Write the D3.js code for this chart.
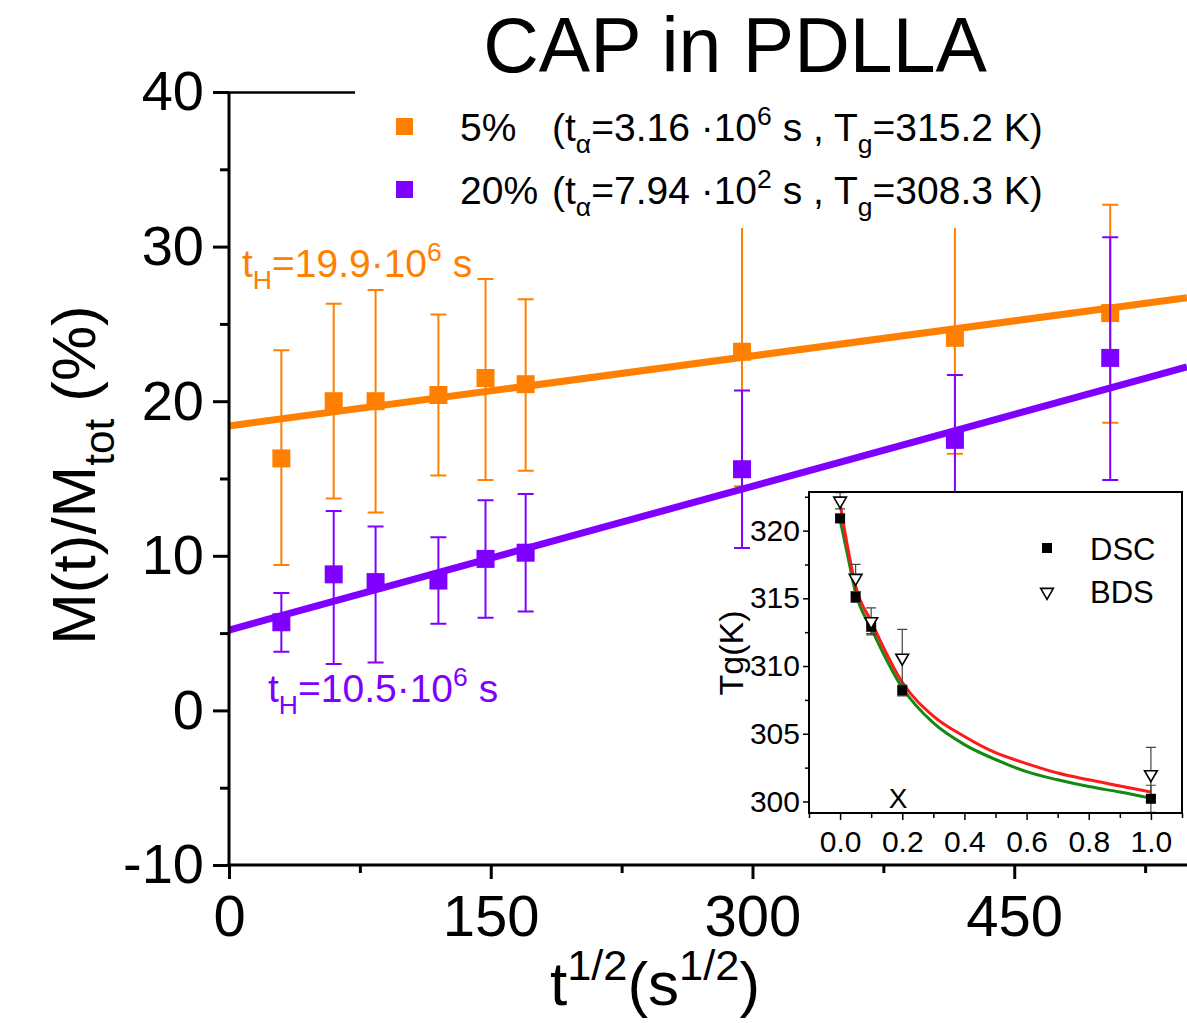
<!DOCTYPE html>
<html>
<head>
<meta charset="utf-8">
<script src="https://cdn.jsdelivr.net/npm/d3@7"></script>
<style>
  html, body { margin: 0; padding: 0; background: #fff; }
  svg { display: block; font-family: 'Liberation Sans', Arial, sans-serif; }
</style>
</head>
<body>
<svg id="chart"></svg>
<script>
'use strict'

// main chart: t^1/2 (s^1/2) and released fraction (%)
const tHalf = [30, 60, 84, 120, 147, 170, 294, 416, 505]
const m5 = [16.3, 20.0, 20.0, 20.4, 21.5, 21.1, 23.2, 24.1, 25.7]
const m5Lo = [9.4, 13.7, 12.8, 15.2, 14.9, 15.5, 14.5, 16.6, 18.6]
const m5Hi = [23.3, 26.3, 27.2, 25.6, 27.9, 26.6, 31.9, 31.6, 32.7]
const m20 = [5.7, 8.8, 8.3, 8.4, 9.8, 10.2, 15.6, 17.5, 22.8]
const m20Lo = [3.8, 3.0, 3.1, 5.6, 6.0, 6.4, 10.5, 13.3, 14.9]
const m20Hi = [7.6, 12.9, 11.9, 11.2, 13.6, 14.0, 20.7, 21.7, 30.6]

// linear fits (intercept, slope)
const fitB = [18.4, 5.2]
const fitK = [0.0151, 0.0310]

const seriesNames = ['5%', '20%']
const tAlpha = ['3.16', '7.94']
const tAlphaExp = ['6', '2']
const tgVals = ['315.2', '308.3']
const tH = ['19.9', '10.5']
const colors = ['#ff8000', '#8000ff']

const yTicks = [-10, 0, 10, 20, 30, 40]
const yMinor = [-5, 5, 15, 25, 35]
const xTicks = [0, 150, 300, 450]
const xMinor = [75, 225, 375, 525]

// inset: Tg vs X
const xFrac = [0, 0.05, 0.1, 0.2, 1.0]
const tgDSC = [320.9, 315.1, 312.9, 308.2, 300.2]
const tgDSCErr = [0.3, 0.4, 0.5, 0.4, 1.0]
const tgBDS = [322.2, 316.5, 313.3, 310.6, 302.0]
const tgBDSErr = [0.6, 1.0, 1.0, 2.1, 2.0]
const curveX = [0, 0.025, 0.05, 0.1, 0.2, 0.3, 0.4, 0.5, 0.6, 0.7, 0.8, 0.9, 1.0]
const greenY = [320.8, 318.1, 315.4, 312.8, 308.4, 305.8, 304.2, 303.1, 302.2, 301.6, 301.1, 300.7, 300.25]
const redY = [322.0, 318.7, 315.9, 313.3, 308.8, 306.3, 304.8, 303.6, 302.8, 302.1, 301.6, 301.15, 300.7]
const inTicksX = [0, 0.2, 0.4, 0.6, 0.8, 1.0]
const inMinorX = [-0.1, 0.1, 0.3, 0.5, 0.7, 0.9, 1.1]
const inTicksY = [300, 305, 310, 315, 320]
const inMinorY = [302.5, 307.5, 312.5, 317.5, 322.5]

const W = 1187
const H = 1023

const svg = d3.select('#chart').attr('width', W).attr('height', H)

const x = d3.scaleLinear().domain([0, 549]).range([229, 1187])
const y = d3.scaleLinear().domain([-10, 40]).range([865, 92])

// rich text helper for sub / superscripts
const richText = (g, px, py, parts, size, color, anchor, rotate, small) => {
  const k = small || 0.62
  const t = g.append('text')
    .attr('x', px).attr('y', py)
    .attr('font-size', size)
    .attr('fill', color)
    .attr('text-anchor', anchor || 'start')
  if (rotate) t.attr('transform', `rotate(${rotate}, ${px}, ${py})`)
  let shift = 0
  parts.forEach((p) => {
    const target = p.sub ? size * 0.3 : p.sup ? -size * 0.4 : 0
    t.append('tspan')
      .attr('dy', target - shift)
      .attr('font-size', p.sub || p.sup ? size * k : size)
      .text(p.t)
    shift = target
  })
  return t
}

// title
svg.append('text')
  .attr('x', 735).attr('y', 72)
  .attr('text-anchor', 'middle')
  .attr('font-size', 77)
  .text('CAP in PDLLA')

// fit lines + data
const lineGen = d3.line().x((d) => x(d[0])).y((d) => y(d[1]))
const allSeries = [
  { v: m5, lo: m5Lo, hi: m5Hi },
  { v: m20, lo: m20Lo, hi: m20Hi }
]

allSeries.forEach((s, i) => {
  const g = svg.append('g')
  g.append('path')
    .attr('d', lineGen([[0, fitB[i]], [549, fitB[i] + fitK[i] * 549]]))
    .attr('stroke', colors[i])
    .attr('stroke-width', 7)
    .attr('fill', 'none')

  const pts = tHalf.map((t, j) => ({ t, v: s.v[j], lo: s.lo[j], hi: s.hi[j] }))
  g.selectAll('.eb').data(pts).enter().append('path')
    .attr('d', (d) => `M${x(d.t)},${y(d.lo)}V${y(d.hi)}M${x(d.t) - 8},${y(d.lo)}h16M${x(d.t) - 8},${y(d.hi)}h16`)
    .attr('stroke', colors[i])
    .attr('stroke-width', 2)
    .attr('fill', 'none')
  g.selectAll('.pt').data(pts).enter().append('rect')
    .attr('x', (d) => x(d.t) - 9)
    .attr('y', (d) => y(d.v) - 9)
    .attr('width', 18).attr('height', 18)
    .attr('fill', colors[i])
})

// legend (white box hides what is behind)
svg.append('rect')
  .attr('x', 356).attr('y', 85).attr('width', 720).attr('height', 143)
  .attr('fill', '#fff')

seriesNames.forEach((name, i) => {
  const by = 141 + i * 63
  svg.append('rect')
    .attr('x', 396).attr('y', by - 23).attr('width', 17).attr('height', 17)
    .attr('fill', colors[i])
  svg.append('text').attr('x', 460).attr('y', by).attr('font-size', 39).text(name)
  richText(svg, 552, by, [
    { t: '(t' }, { t: 'α', sub: true }, { t: '=' + tAlpha[i] + ' ·10' },
    { t: tAlphaExp[i], sup: true }, { t: ' s , T' }, { t: 'g', sub: true },
    { t: '=' + tgVals[i] + ' K)' }
  ], 39, '#000', 'start', 0, 0.68)
})

// t_H annotations
richText(svg, 242, 277, [{ t: 't' }, { t: 'H', sub: true }, { t: '=' + tH[0] + '·10' }, { t: '6', sup: true }, { t: ' s' }], 39, colors[0], 'start', 0, 0.68)
richText(svg, 268, 702, [{ t: 't' }, { t: 'H', sub: true }, { t: '=' + tH[1] + '·10' }, { t: '6', sup: true }, { t: ' s' }], 39, colors[1], 'start', 0, 0.68)

// axes
const styleAxis = (g, size) => {
  g.select('.domain').remove()
  g.selectAll('.tick line').attr('stroke', '#000').attr('stroke-width', 3)
  g.selectAll('.tick text').attr('font-size', size).attr('fill', '#000')
    .attr('font-family', 'Liberation Sans, Arial, sans-serif')
}

const plainNum = (d) => String(d)

const yAx = svg.append('g').attr('transform', 'translate(229,0)')
  .call(d3.axisLeft(y).tickValues(yTicks).tickSize(16).tickPadding(9).tickFormat(plainNum))
styleAxis(yAx, 56)
const yAxMinor = svg.append('g').attr('transform', 'translate(229,0)')
  .call(d3.axisLeft(y).tickValues(yMinor).tickSize(9).tickFormat(''))
styleAxis(yAxMinor, 0)

const xAx = svg.append('g').attr('transform', 'translate(0,865)')
  .call(d3.axisBottom(x).tickValues(xTicks).tickSize(14).tickPadding(16).tickFormat(plainNum))
styleAxis(xAx, 58)
const xAxMinor = svg.append('g').attr('transform', 'translate(0,865)')
  .call(d3.axisBottom(x).tickValues(xMinor).tickSize(8).tickFormat(''))
styleAxis(xAxMinor, 0)

svg.append('line').attr('x1', 229).attr('x2', 229).attr('y1', 92).attr('y2', 866.5)
  .attr('stroke', '#000').attr('stroke-width', 3)
svg.append('line').attr('x1', 227.5).attr('x2', W).attr('y1', 865).attr('y2', 865)
  .attr('stroke', '#000').attr('stroke-width', 3)
svg.append('line').attr('x1', 227.5).attr('x2', 355).attr('y1', 92.5).attr('y2', 92.5)
  .attr('stroke', '#000').attr('stroke-width', 2.5)

// axis titles
richText(svg, 95, 475, [{ t: 'M(t)/M' }, { t: 'tot', sub: true }, { t: ' (%)' }], 62, '#000', 'middle', -90, 0.68)
richText(svg, 655, 1005, [{ t: 't' }, { t: '1/2', sup: true }, { t: '(s' }, { t: '1/2', sup: true }, { t: ')' }], 62, '#000', 'middle', 0, 0.7)

// ---- inset ----
const ix = d3.scaleLinear().domain([-0.1, 1.1]).range([809, 1182])
const iy = d3.scaleLinear().domain([299.15, 322.85]).range([813, 492])
const inset = svg.append('g')

inset.append('rect')
  .attr('x', 809).attr('y', 492).attr('width', 373).attr('height', 321)
  .attr('fill', '#fff')

svg.append('clipPath').attr('id', 'inclip')
  .append('rect').attr('x', 809).attr('y', 492).attr('width', 373).attr('height', 321)

const plotArea = inset.append('g').attr('clip-path', 'url(#inclip)')

const curveGen = d3.line().x((d) => ix(d[0])).y((d) => iy(d[1])).curve(d3.curveMonotoneX)
plotArea.append('path')
  .attr('d', curveGen(curveX.map((v, i) => [v, greenY[i]])))
  .attr('stroke', '#118a11').attr('stroke-width', 3).attr('fill', 'none')
plotArea.append('path')
  .attr('d', curveGen(curveX.map((v, i) => [v, redY[i]])))
  .attr('stroke', '#ff1a1a').attr('stroke-width', 3).attr('fill', 'none')

const errPath = (xv, yv, e) => {
  const px = ix(xv)
  return `M${px},${iy(yv - e)}V${iy(yv + e)}M${px - 5},${iy(yv - e)}h10M${px - 5},${iy(yv + e)}h10`
}
xFrac.forEach((xv, i) => {
  plotArea.append('path').attr('d', errPath(xv, tgBDS[i], tgBDSErr[i]))
    .attr('stroke', '#444').attr('stroke-width', 1.2).attr('fill', 'none')
  plotArea.append('path').attr('d', errPath(xv, tgDSC[i], tgDSCErr[i]))
    .attr('stroke', '#444').attr('stroke-width', 1.2).attr('fill', 'none')
})
const tri = d3.symbol().type(d3.symbolTriangle).size(70)
plotArea.selectAll('.dsc').data(xFrac).enter().append('rect')
  .attr('x', (d) => ix(d) - 5).attr('y', (d, i) => iy(tgDSC[i]) - 5)
  .attr('width', 10).attr('height', 10).attr('fill', '#000')
plotArea.selectAll('.bds').data(xFrac).enter().append('path')
  .attr('d', tri)
  .attr('transform', (d, i) => `translate(${ix(d)},${iy(tgBDS[i])}) rotate(180)`)
  .attr('fill', '#fff').attr('stroke', '#000').attr('stroke-width', 1.6)

inset.append('rect')
  .attr('x', 809).attr('y', 492).attr('width', 373).attr('height', 321)
  .attr('fill', 'none').attr('stroke', '#000').attr('stroke-width', 2)

const styleInset = (g) => {
  g.select('.domain').remove()
  g.selectAll('.tick line').attr('stroke', '#000').attr('stroke-width', 1.5)
  g.selectAll('.tick text').attr('font-size', 30).attr('fill', '#000')
    .attr('font-family', 'Liberation Sans, Arial, sans-serif')
}
styleInset(inset.append('g').attr('transform', 'translate(809,0)')
  .call(d3.axisLeft(iy).tickValues(inTicksY).tickSize(6).tickPadding(3).tickFormat(d3.format('d'))))
styleInset(inset.append('g').attr('transform', 'translate(809,0)')
  .call(d3.axisLeft(iy).tickValues(inMinorY).tickSize(4).tickFormat('')))
styleInset(inset.append('g').attr('transform', 'translate(0,813)')
  .call(d3.axisBottom(ix).tickValues(inTicksX).tickSize(7).tickPadding(11).tickFormat(d3.format('.1f'))))
styleInset(inset.append('g').attr('transform', 'translate(0,813)')
  .call(d3.axisBottom(ix).tickValues(inMinorX).tickSize(5).tickFormat('')))

inset.append('text').attr('x', 743).attr('y', 653)
  .attr('transform', 'rotate(-90, 743, 653)')
  .attr('text-anchor', 'middle').attr('font-size', 34).text('Tg(K)')
inset.append('text').attr('x', 898).attr('y', 808)
  .attr('text-anchor', 'middle').attr('font-size', 28).text('X')

// inset legend
inset.append('rect').attr('x', 1042).attr('y', 543).attr('width', 10).attr('height', 10).attr('fill', '#000')
inset.append('text').attr('x', 1090).attr('y', 560).attr('font-size', 31).text('DSC')
inset.append('path').attr('d', tri)
  .attr('transform', 'translate(1047,592) rotate(180)')
  .attr('fill', '#fff').attr('stroke', '#000').attr('stroke-width', 1.6)
inset.append('text').attr('x', 1090).attr('y', 603).attr('font-size', 31).text('BDS')
</script>
</body>
</html>
